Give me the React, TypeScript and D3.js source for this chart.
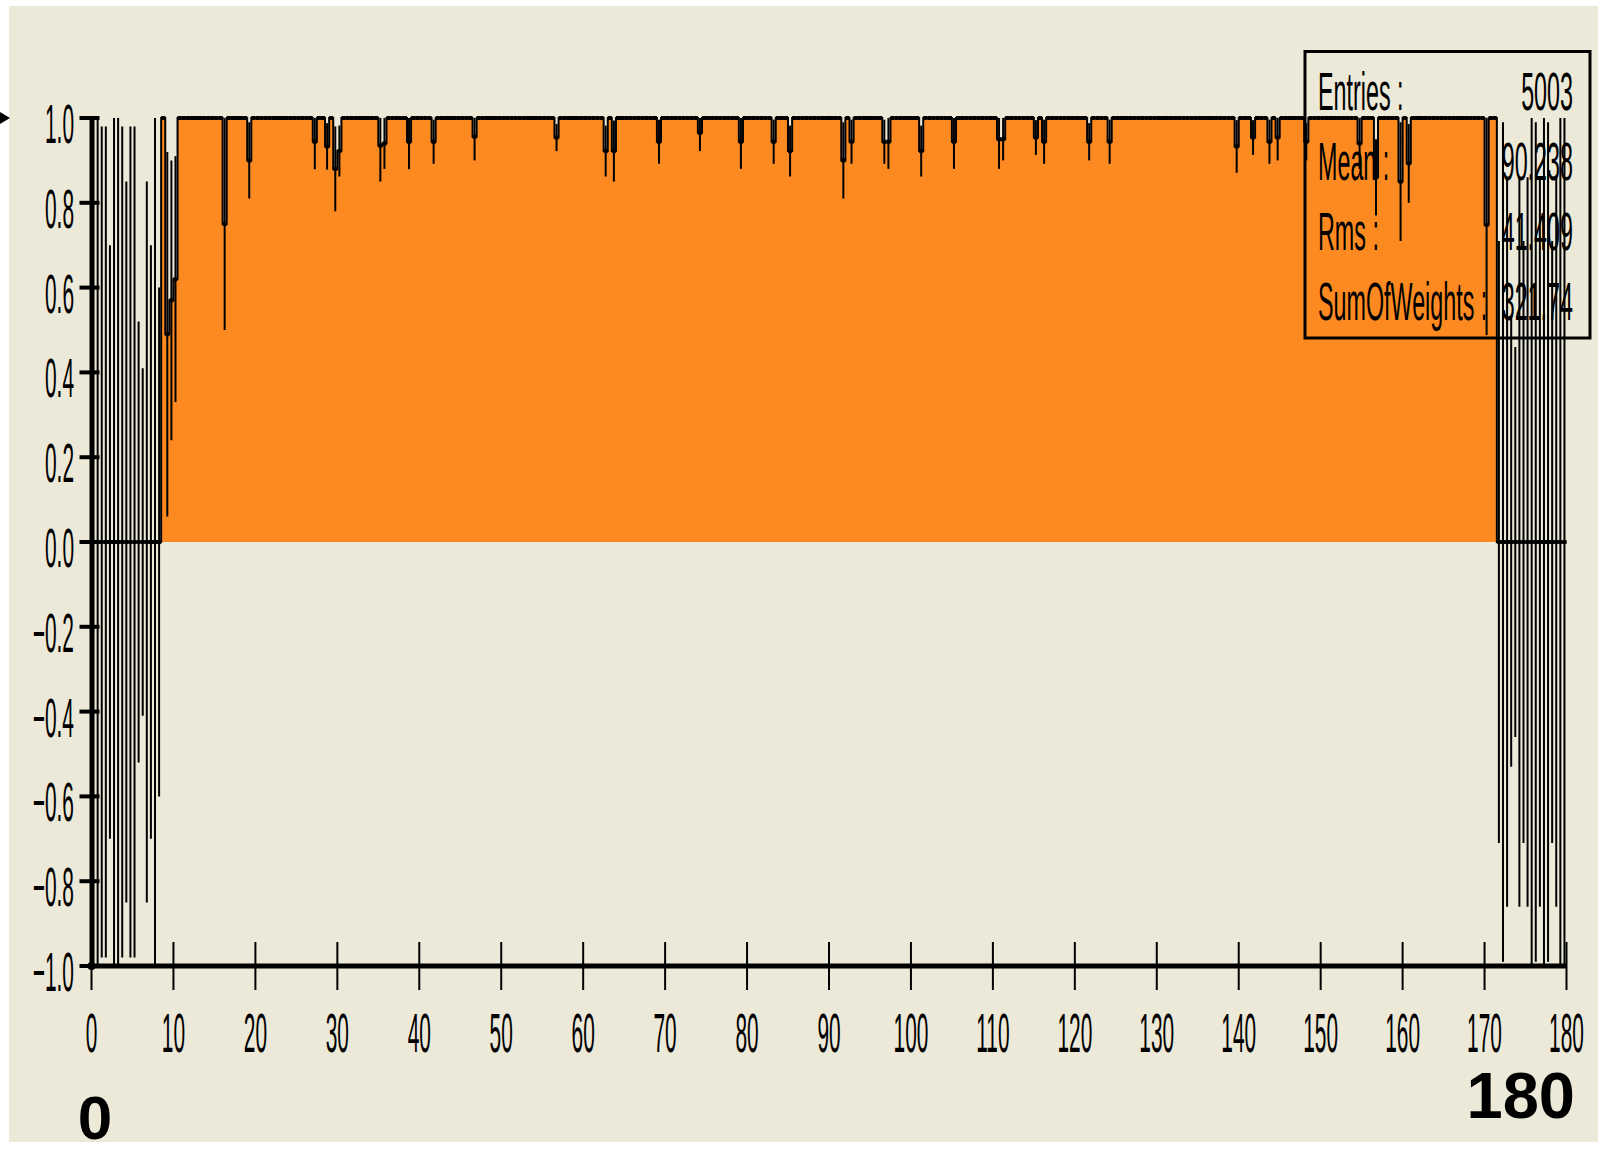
import React from "react";
import * as d3 from "d3";

// histogram binning (degrees)
const binWidth = 0.5;
const xDomain: [number, number] = [0, 180];
const yDomain: [number, number] = [-1, 1];

// empty bins at the low end (content 0), half-width of each error bar
const lowEdgeErrors = [1.0, 1.0, 0.98, 0.98, 0.7, 1.0, 1.0, 0.98, 0.85, 0.98, 0.98, 0.52, 0.41, 0.85, 0.7, 1.0, 0.6];
// bins 8.5 .. 10.5 where the content climbs to the plateau
const riseValues = [1.0, 0.49, 0.57, 0.62];
const riseErrors = [0, 0.43, 0.33, 0.29];
// most bins between 10.5 and 171.5 sit exactly on 1.0
const plateauValue = 1.0;
// bins below the plateau: centre, content, error
const dipCenters = [
  16.25, 19.25, 27.25, 28.75, 29.75, 30.25, 35.25, 35.75, 38.75, 41.75, 46.75, 56.75, 62.75, 63.75, 69.25,
  74.25, 79.25, 83.25, 85.25, 91.75, 92.75, 96.75, 97.25, 101.25, 105.25, 110.75, 111.25, 115.25, 116.25,
  121.75, 124.25, 139.75, 141.75, 143.75, 144.75, 148.25, 154.75, 156.75, 159.75, 160.75, 170.25,
];
const dipValues = [
  0.75, 0.9, 0.944, 0.933, 0.88, 0.922, 0.935, 0.94, 0.944, 0.944, 0.956, 0.954, 0.922, 0.922, 0.944,
  0.965, 0.944, 0.944, 0.922, 0.9, 0.944, 0.944, 0.944, 0.922, 0.944, 0.95, 0.95, 0.954, 0.944,
  0.944, 0.944, 0.933, 0.954, 0.944, 0.954, 0.944, 0.94, 0.86, 0.85, 0.893, 0.748,
];
const dipErrors = [
  0.25, 0.09, 0.065, 0.055, 0.1, 0.06, 0.085, 0.06, 0.065, 0.052, 0.056, 0.032, 0.06, 0.072, 0.052,
  0.043, 0.064, 0.052, 0.06, 0.09, 0.052, 0.052, 0.064, 0.06, 0.064, 0.07, 0.05, 0.041, 0.052,
  0.044, 0.052, 0.062, 0.041, 0.052, 0.054, 0.044, 0.06, 0.09, 0.14, 0.093, 0.26,
];
// empty bins at the high end (content 0)
const highEdgeErrors = [0.71, 0.99, 0.86, 0.53, 0.46, 0.86, 0.71, 0.86, 1.0, 0.99, 0.86, 1.0, 0.99, 0.71, 0.86, 1.0, 1.0];

const statLabels = ["Entries :", "Mean :", "Rms :", "SumOfWeights :"];
const statValues = ["5003", "90.238", "41.409", "321.74"];
const cornerLabels = ["0", "180"];

type Bin = { x0: number; value: number; err: number };

function buildBins(): Bin[] {
  const bins: Bin[] = [];
  let x0 = xDomain[0];
  lowEdgeErrors.forEach((e) => {
    bins.push({ x0, value: 0, err: e });
    x0 += binWidth;
  });
  riseValues.forEach((v, i) => {
    bins.push({ x0, value: v, err: riseErrors[i] });
    x0 += binWidth;
  });
  const plateauEnd = xDomain[1] - highEdgeErrors.length * binWidth;
  while (x0 < plateauEnd - 1e-9) {
    const c = x0 + binWidth / 2;
    const k = dipCenters.findIndex((d) => Math.abs(d - c) < 1e-6);
    bins.push(k >= 0 ? { x0, value: dipValues[k], err: dipErrors[k] } : { x0, value: plateauValue, err: 0 });
    x0 += binWidth;
  }
  highEdgeErrors.forEach((e) => {
    bins.push({ x0, value: 0, err: e });
    x0 += binWidth;
  });
  return bins;
}

const W = 1613;
const H = 1152;
const BG = "#ECE9D8";
const FILL = "#FD8A20";
const FONT = "'Liberation Sans', Arial, sans-serif";

export default function App() {
  const bins = buildBins();
  const x = d3.scaleLinear().domain(xDomain).range([91.5, 1566.5]);
  const y = d3.scaleLinear().domain(yDomain).range([966, 118]).clamp(true);

  const pts = [...bins, { x0: xDomain[1], value: bins[bins.length - 1].value, err: 0 }];
  const area = d3
    .area<Bin>()
    .x((d) => x(d.x0))
    .y0(y(0))
    .y1((d) => y(d.value))
    .curve(d3.curveStepAfter);
  const outline = d3
    .line<Bin>()
    .x((d) => x(d.x0))
    .y((d) => y(d.value))
    .curve(d3.curveStepAfter);

  const yTicks = y.ticks(10);
  const xTicks = x.ticks(18);
  const fmt = d3.format(".1f");
  const statRows = [110, 180, 250, 320];

  return (
    <svg width={W} height={H} style={{ position: "absolute", left: 0, top: 0 }}>
      <rect x={0} y={0} width={W} height={H} fill="#fff" />
      <rect x={9} y={6} width={1589} height={1136} fill={BG} />
      <polygon points="0,112 10,118 0,124" fill="#000" />

      {/* histogram fill */}
      <path d={area(pts) || ""} fill={FILL} stroke="none" />

      {/* stats box */}
      <rect x={1305} y={51.5} width={285} height={286.5} fill="none" stroke="#000" strokeWidth={3} />
      {statLabels.map((s, i) => (
        <g key={s}>
          <text
            transform={`translate(1318,${statRows[i]}) scale(0.44,1)`}
            fontFamily={FONT}
            fontSize={53}
            fill="#000"
          >
            {s}
          </text>
          <text
            transform={`translate(1573,${statRows[i]}) scale(0.44,1)`}
            fontFamily={FONT}
            fontSize={53}
            textAnchor="end"
            fill="#000"
          >
            {statValues[i]}
          </text>
        </g>
      ))}

      {/* outline */}
      <path d={outline(pts) || ""} fill="none" stroke="#000" strokeWidth={2} />
      {bins.map((b, i) => (
        <line
          key={`h${i}`}
          x1={x(b.x0)}
          x2={x(b.x0 + binWidth)}
          y1={y(b.value)}
          y2={y(b.value)}
          stroke="#000"
          strokeWidth={4}
        />
      ))}
      {/* error bars */}
      {bins
        .filter((b) => b.err > 0)
        .map((b, i) => (
          <line
            key={`e${i}`}
            x1={x(b.x0 + binWidth / 2)}
            x2={x(b.x0 + binWidth / 2)}
            y1={y(b.value - b.err)}
            y2={y(b.value + b.err)}
            stroke="#000"
            strokeWidth={2}
          />
        ))}

      {/* axes */}
      <line x1={x(0)} x2={x(0)} y1={y(-1)} y2={y(1)} stroke="#000" strokeWidth={4} />
      <line x1={x(0)} x2={x(180)} y1={y(-1)} y2={y(-1)} stroke="#000" strokeWidth={5} />
      <circle cx={x(0)} cy={y(-1)} r={4} fill="#000" />
      {yTicks.map((t) => (
        <g key={`y${t}`}>
          <line x1={x(0) - 12} x2={x(0) + 8} y1={y(t)} y2={y(t)} stroke="#000" strokeWidth={4} />
          <text
            transform={`translate(74,${y(t) + 25}) scale(0.38,1)`}
            fontFamily={FONT}
            fontSize={55}
            textAnchor="end"
            fill="#000"
          >
            {fmt(t)}
          </text>
        </g>
      ))}
      {xTicks.map((t) => (
        <g key={`x${t}`}>
          <line x1={x(t)} x2={x(t)} y1={y(-1) - 24} y2={y(-1) + 24} stroke="#000" strokeWidth={2} />
          <text
            transform={`translate(${x(t)},1052) scale(0.38,1)`}
            fontFamily={FONT}
            fontSize={55}
            textAnchor="middle"
            fill="#000"
          >
            {t}
          </text>
        </g>
      ))}

      {/* corner annotations */}
      <text x={95} y={1139} fontFamily={FONT} fontSize={62} fontWeight="bold" textAnchor="middle" fill="#000">
        {cornerLabels[0]}
      </text>
      <text x={1575} y={1118} fontFamily={FONT} fontSize={65} fontWeight="bold" textAnchor="end" fill="#000">
        {cornerLabels[1]}
      </text>
    </svg>
  );
}
